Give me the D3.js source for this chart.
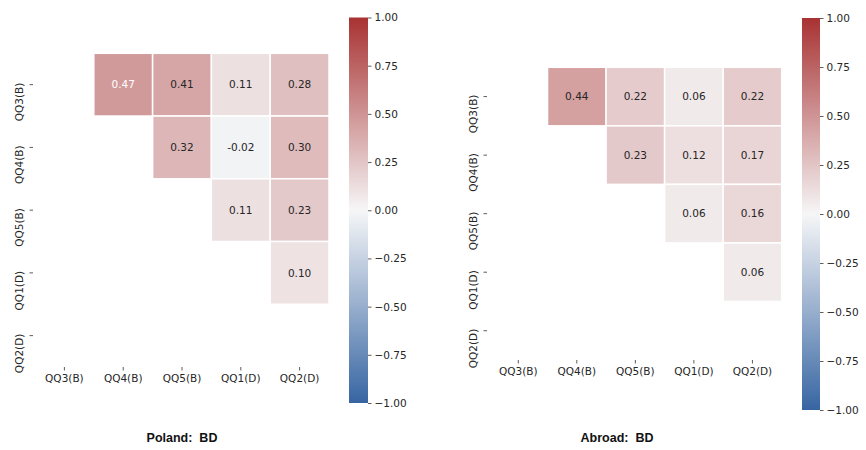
<!DOCTYPE html>
<html>
<head>
<meta charset="utf-8">
<script src="https://cdn.jsdelivr.net/npm/d3@7"></script>
<style>
  body { margin: 0; background: #fff; }
  svg { display: block; }
  text { font-family: "DejaVu Sans", sans-serif; }
</style>
</head>
<body>
<svg id="chart" width="866" height="450"></svg>
<script>
// ========= Data
const labels = ["QQ3(B)", "QQ4(B)", "QQ5(B)", "QQ1(D)", "QQ2(D)"];

// upper triangle only (null = masked)
const polandValues = [
  [null, 0.47, 0.41, 0.11, 0.28],
  [null, null, 0.32, -0.02, 0.30],
  [null, null, null, 0.11, 0.23],
  [null, null, null, null, 0.10],
  [null, null, null, null, null],
];
const abroadValues = [
  [null, 0.44, 0.22, 0.06, 0.22],
  [null, null, 0.23, 0.12, 0.17],
  [null, null, null, 0.06, 0.16],
  [null, null, null, null, 0.06],
  [null, null, null, null, null],
];
const cbTicks = [-1, -0.75, -0.5, -0.25, 0, 0.25, 0.5, 0.75, 1];
const titles = ["Poland:  BD", "Abroad:  BD"];

// ========= Setup
const svg = d3.select("#chart");
const color = d3.scaleLinear()
  .domain([-1, 0, 1])
  .range(["#3765a2", "#f6f6f7", "#a83232"])
  .interpolate(d3.interpolateRgb);

// seaborn-like text colour choice
function lum(c) {
  const rgb = d3.rgb(c);
  const f = v => { v /= 255; return v <= 0.03928 ? v / 12.92 : Math.pow((v + 0.055) / 1.055, 2.4); };
  return 0.2126 * f(rgb.r) + 0.7152 * f(rgb.g) + 0.0722 * f(rgb.b);
}

const panels = [
  { values: polandValues, title: titles[0], x0: 35, x1: 329, y0: 53.3, y1: 367,
    cbX: 349, cbW: 19, cbY0: 17.5, cbY1: 403, titleX: 182 },
  { values: abroadValues, title: titles[1], x0: 489, x1: 781.7, y0: 67.3, y1: 360,
    cbX: 802, cbW: 18, cbY0: 18, cbY1: 410, titleX: 617 },
];

const defs = svg.append("defs");

panels.forEach((p, pi) => {
  const g = svg.append("g");

  const x = d3.scaleBand().domain(labels).range([p.x0, p.x1]);
  const y = d3.scaleBand().domain(labels).range([p.y0, p.y1]);

  const cells = [];
  p.values.forEach((row, i) => row.forEach((v, j) => {
    if (v !== null) cells.push({ r: labels[i], c: labels[j], v });
  }));

  g.selectAll("rect.cell")
    .data(cells)
    .join("rect")
    .attr("class", "cell")
    .attr("x", d => x(d.c))
    .attr("y", d => y(d.r))
    .attr("width", x.bandwidth())
    .attr("height", y.bandwidth())
    .attr("fill", d => color(d.v))
    .attr("stroke", "#fff")
    .attr("stroke-width", 1.5);

  g.selectAll("text.annot")
    .data(cells)
    .join("text")
    .attr("class", "annot")
    .attr("x", d => x(d.c) + x.bandwidth() / 2)
    .attr("y", d => y(d.r) + y.bandwidth() / 2)
    .attr("dy", "0.35em")
    .attr("text-anchor", "middle")
    .attr("font-size", 10.5)
    .attr("fill", d => lum(color(d.v)) < 0.408 ? "#fff" : "#262626")
    .text(d => d.v.toFixed(2));

  // x axis
  const xAxis = g.append("g")
    .attr("transform", `translate(0,${p.y1})`)
    .call(d3.axisBottom(x).tickSize(3.5).tickPadding(4));
  xAxis.select(".domain").remove();
  xAxis.selectAll("line").attr("stroke", "#333").attr("stroke-width", 0.8);
  xAxis.selectAll("text").attr("font-size", 10.5).attr("fill", "#262626")
    .style("font-family", "DejaVu Sans");

  // y axis (rotated labels)
  const yAxis = g.append("g")
    .attr("transform", `translate(${p.x0 - 2},0)`)
    .call(d3.axisLeft(y).tickSize(3.5));
  yAxis.select(".domain").remove();
  yAxis.selectAll("line").attr("stroke", "#333").attr("stroke-width", 0.8);
  yAxis.selectAll("text")
    .attr("font-size", 10.5).attr("fill", "#262626")
    .style("font-family", "DejaVu Sans")
    .attr("x", null).attr("dy", null)
    .attr("text-anchor", "end")
    .attr("transform", "translate(-10,-2) rotate(-90)");

  // colorbar
  const gradId = "cbgrad" + pi;
  const grad = defs.append("linearGradient")
    .attr("id", gradId)
    .attr("x1", 0).attr("y1", 1).attr("x2", 0).attr("y2", 0);
  grad.selectAll("stop")
    .data(d3.range(0, 1.0001, 0.05))
    .join("stop")
    .attr("offset", d => d)
    .attr("stop-color", d => color(d * 2 - 1));

  const cbScale = d3.scaleLinear().domain([-1, 1]).range([p.cbY1, p.cbY0]);
  g.append("rect")
    .attr("x", p.cbX)
    .attr("y", p.cbY0)
    .attr("width", p.cbW)
    .attr("height", p.cbY1 - p.cbY0)
    .attr("fill", `url(#${gradId})`);

  const cbAxis = g.append("g")
    .attr("transform", `translate(${p.cbX + p.cbW},0)`)
    .call(d3.axisRight(cbScale).tickValues(cbTicks).tickSize(3.5).tickPadding(3)
      .tickFormat(d3.format(".2f")));
  cbAxis.select(".domain").remove();
  cbAxis.selectAll("line").attr("stroke", "#333").attr("stroke-width", 0.8);
  cbAxis.selectAll("text").attr("font-size", 10.5).attr("fill", "#262626")
    .style("font-family", "DejaVu Sans");

  // title
  svg.append("text")
    .attr("x", p.titleX)
    .attr("y", 442)
    .attr("text-anchor", "middle")
    .style("font-family", "'Liberation Sans', Arial, sans-serif")
    .style("font-weight", "bold")
    .style("font-size", "12.5px")
    .attr("fill", "#111")
    .style("white-space", "pre")
    .text(p.title);
});
</script>
</body>
</html>
